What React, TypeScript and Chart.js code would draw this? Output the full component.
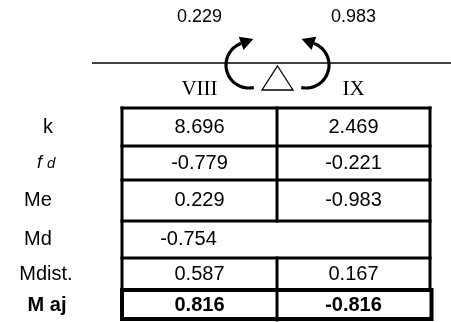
import { useEffect, useRef } from "react";
import { Chart, registerables } from "chart.js";

Chart.register(...registerables);

// ---- data ----
const rowLabels = ["k", "fd", "Me", "Md", "Mdist.", "M aj"];
const spanLabels = ["VIII", "IX"];
const topMoments = [0.229, 0.983];
const kValues = [8.696, 2.469];
const fdValues = [-0.779, -0.221];
const meValues = [0.229, -0.983];
const mdValues = [-0.754];
const mdistValues = [0.587, 0.167];
const majValues = [0.816, -0.816];

// ---- layout (in scale units, scales map 1:1 to canvas) ----
const W = 451;
const H = 322;
const colEdges = [122, 277, 430];
const rowEdges = [108, 146, 180, 221, 258, 290, 320];
const labelX = [48, 46, 38, 38, 46, 47];
const SANS = "'Liberation Sans', Arial, sans-serif";
const SERIF = "'Liberation Serif', 'Times New Roman', serif";

const tablePlugin = {
  id: "momentTable",
  afterDraw(chart: any) {
    const ctx = chart.ctx as CanvasRenderingContext2D;
    const xs = chart.scales.x;
    const ys = chart.scales.y;
    const px = (v: number) => xs.getPixelForValue(v);
    const py = (v: number) => ys.getPixelForValue(v);
    const fmt = (v: number) => v.toFixed(3);
    const colC = [(colEdges[0] + colEdges[1]) / 2, (colEdges[1] + colEdges[2]) / 2];
    ctx.save();
    ctx.fillStyle = "#000";
    ctx.strokeStyle = "#000";
    ctx.textAlign = "center";
    ctx.textBaseline = "middle";

    // top moments
    ctx.font = `18px ${SANS}`;
    topMoments.forEach((m, i) => ctx.fillText(fmt(m), px(colC[i]), py(17)));

    // beam line
    ctx.lineWidth = 1.5;
    ctx.beginPath();
    ctx.moveTo(px(92), py(63));
    ctx.lineTo(px(451), py(63));
    ctx.stroke();

    // support triangle
    ctx.lineWidth = 1.3;
    ctx.beginPath();
    ctx.moveTo(px(277.5), py(66));
    ctx.lineTo(px(293), py(90));
    ctx.lineTo(px(262), py(90));
    ctx.closePath();
    ctx.fillStyle = "#fff";
    ctx.fill();
    ctx.stroke();
    ctx.fillStyle = "#000";

    // curved arrows
    const drawArrow = (cx: number, sign: number) => {
      const cy = 65;
      const r = 23;
      const a0 = (78 * Math.PI) / 180;
      const a1 = (250 * Math.PI) / 180;
      const pt = (a: number) => [cx + sign * r * Math.cos(a), cy + r * Math.sin(a)];
      ctx.lineWidth = 3.2;
      ctx.beginPath();
      const steps = 40;
      for (let s = 0; s <= steps; s++) {
        const a = a0 + ((a1 - a0) * s) / steps;
        const [x, y] = pt(a);
        if (s === 0) ctx.moveTo(px(x), py(y));
        else ctx.lineTo(px(x), py(y));
      }
      ctx.stroke();
      const [ex, ey] = pt(a1);
      const dx = -Math.sin(a1) * sign;
      const dy = Math.cos(a1);
      const L = 13;
      const Wd = 7;
      const tip = [ex + dx * L, ey + dy * L];
      const b1 = [ex - dy * Wd, ey + dx * Wd];
      const b2 = [ex + dy * Wd, ey - dx * Wd];
      ctx.beginPath();
      ctx.moveTo(px(tip[0]), py(tip[1]));
      ctx.lineTo(px(b1[0]), py(b1[1]));
      ctx.lineTo(px(b2[0]), py(b2[1]));
      ctx.closePath();
      ctx.fill();
    };
    drawArrow(249, 1);
    drawArrow(306, -1);

    // span labels
    ctx.font = `21px ${SERIF}`;
    spanLabels.forEach((s, i) => ctx.fillText(s, px(colC[i]), py(89)));

    // table grid
    const hLine = (y: number, x0: number, x1: number, lw: number) => {
      ctx.lineWidth = lw;
      ctx.beginPath();
      ctx.moveTo(px(x0), py(y));
      ctx.lineTo(px(x1), py(y));
      ctx.stroke();
    };
    const vLine = (x: number, y0: number, y1: number, lw: number) => {
      ctx.lineWidth = lw;
      ctx.beginPath();
      ctx.moveTo(px(x), py(y0));
      ctx.lineTo(px(x), py(y1));
      ctx.stroke();
    };
    const [L0, M0, R0] = colEdges;
    ctx.lineCap = "square";
    for (let i = 0; i < 6; i++) hLine(rowEdges[i], L0, R0, 3);
    vLine(L0, rowEdges[0], rowEdges[5], 3);
    vLine(R0, rowEdges[0], rowEdges[5], 3);
    vLine(M0, rowEdges[0], rowEdges[3], 3);
    vLine(M0, rowEdges[4], rowEdges[5], 3);
    // bold final row box
    ctx.lineWidth = 4;
    ctx.strokeRect(px(L0), py(rowEdges[5]), px(R0 + 1.5) - px(L0), py(rowEdges[6] - 1) - py(rowEdges[5]));
    vLine(M0, rowEdges[5], rowEdges[6], 3);
    ctx.lineCap = "butt";

    // row labels
    const rowC = rowEdges.slice(0, 6).map((e, i) => (e + rowEdges[i + 1]) / 2);
    rowLabels.forEach((lab, i) => {
      const x = px(labelX[i]);
      const y = py(rowC[i]);
      if (lab === "fd") {
        ctx.textAlign = "left";
        ctx.font = `italic 18px ${SANS}`;
        ctx.fillText("f", x - 9, y);
        ctx.font = `italic 15px ${SANS}`;
        ctx.fillText("d", x + 1, y + 1);
        ctx.textAlign = "center";
      } else {
        ctx.font = (i === 5 ? "bold " : "") + `20px ${SANS}`;
        ctx.fillText(lab, x, y);
      }
    });

    // values
    const rows = [kValues, fdValues, meValues, mdValues, mdistValues, majValues];
    rows.forEach((vals, r) => {
      ctx.font = (r === 5 ? "bold " : "") + `20px ${SANS}`;
      vals.forEach((v, c) => {
        const x = r === 3 ? colC[c] - 11 : colC[c];
        ctx.fillText(fmt(v), px(x), py(rowC[r]));
      });
    });
    ctx.restore();
  },
};

export default function App() {
  const ref = useRef<HTMLCanvasElement | null>(null);
  useEffect(() => {
    document.body.style.margin = "0";
    if (!ref.current) return;
    const chart = new Chart(ref.current, {
      type: "scatter",
      data: { datasets: [{ data: [], pointRadius: 0 }] },
      options: {
        animation: false,
        responsive: false,
        events: [],
        layout: { padding: 0 },
        plugins: { legend: { display: false }, tooltip: { enabled: false }, title: { display: false } },
        scales: {
          x: { type: "linear", min: 0, max: W, display: false },
          y: { type: "linear", min: 0, max: H, reverse: true, display: false },
        },
      },
      plugins: [tablePlugin],
    });
    return () => chart.destroy();
  }, []);
  return (
    <div style={{ width: W, height: H, background: "#fff" }}>
      <canvas ref={ref} width={W} height={H} style={{ width: W, height: H, display: "block" }} />
    </div>
  );
}
